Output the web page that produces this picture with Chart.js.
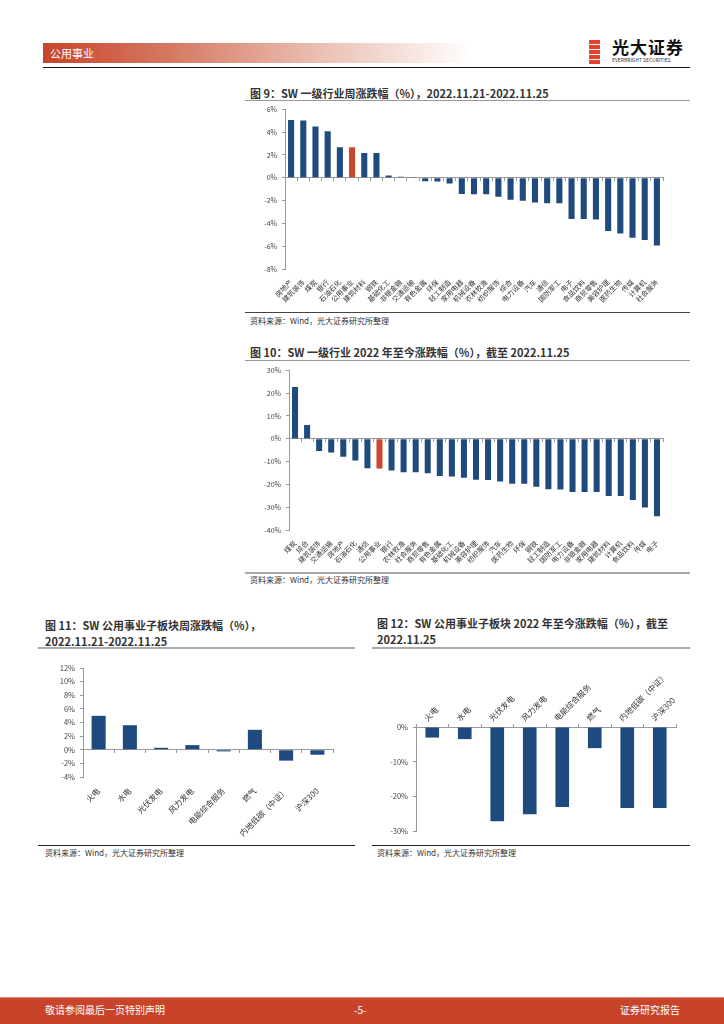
<!DOCTYPE html>
<html>
<head>
<meta charset="utf-8">
<script src="https://cdn.jsdelivr.net/npm/chart.js@4.4.0/dist/chart.umd.min.js"></script>
<style>
  body { margin: 0; }
  #page { position: relative; width: 724px; height: 1024px; background: #fff; overflow: hidden;
          font-family: "Noto Sans CJK SC", "Noto Sans", sans-serif; color: #333; }
  .title { position: absolute; font-size: 11px; font-weight: bold; line-height: 16px; color: #333; white-space: nowrap; }
  .src { position: absolute; font-size: 8px; line-height: 10px; color: #333; white-space: nowrap; }
  .rule { position: absolute; height: 0; }
  canvas { position: absolute; }
</style>
</head>
<body>
<div id="page">
  <!-- header -->
  <div style="position:absolute;left:43px;top:43px;width:430px;height:20px;background:linear-gradient(to right,#C7452A 0%,#D67A63 30%,#E8B7AA 60%,#fff 100%);"></div>
  <div style="position:absolute;left:50px;top:45px;font-size:11px;line-height:16px;color:#fff;">公用事业</div>
  <div style="position:absolute;left:589px;top:40px;width:11px;height:24px;background:repeating-linear-gradient(to bottom,#E8412C 0 4px,#fff 4px 5px);"></div>
  <div style="position:absolute;left:612px;top:37px;font-size:17px;font-weight:bold;line-height:20px;color:#111;letter-spacing:1px;">光大证券</div>
  <div style="position:absolute;left:612px;top:57px;font-size:5px;line-height:6px;color:#333;">EVERBRIGHT SECURITIES</div>
  <div class="rule" style="left:43px;top:67px;width:647px;border-top:1.5px solid #111;"></div>

  <!-- chart 9 -->
  <div class="title" style="left:250px;top:85px;">图 9：SW 一级行业周涨跌幅（%），2022.11.21-2022.11.25</div>
  <div class="rule" style="left:245px;top:100px;width:445px;border-top:1px solid #999;"></div>
  <canvas id="c9" width="445" height="212" style="left:245px;top:100px;"></canvas>
  <div class="rule" style="left:245px;top:312px;width:445px;border-top:1px solid #444;"></div>
  <div class="src" style="left:250px;top:316px;">资料来源：Wind，光大证券研究所整理</div>

  <!-- chart 10 -->
  <div class="title" style="left:250px;top:344px;">图 10：SW 一级行业 2022 年至今涨跌幅（%），截至 2022.11.25</div>
  <div class="rule" style="left:245px;top:360px;width:445px;border-top:1px solid #999;"></div>
  <canvas id="c10" width="445" height="210" style="left:245px;top:361px;"></canvas>
  <div class="rule" style="left:245px;top:572px;width:445px;border-top:2px solid #aaa;"></div>
  <div class="src" style="left:250px;top:575px;">资料来源：Wind，光大证券研究所整理</div>

  <!-- chart 11 -->
  <div class="title" style="left:45px;top:617px;">图 11：SW 公用事业子板块周涨跌幅（%），<br>2022.11.21-2022.11.25</div>
  <div class="rule" style="left:38px;top:647px;width:317px;border-top:2px solid #aaa;"></div>
  <canvas id="c11" width="317" height="193" style="left:38px;top:650px;"></canvas>
  <div class="rule" style="left:38px;top:845px;width:317px;border-top:1px solid #222;"></div>
  <div class="src" style="left:45px;top:848px;">资料来源：Wind，光大证券研究所整理</div>

  <!-- chart 12 -->
  <div class="title" style="left:377px;top:615px;">图 12：SW 公用事业子板块 2022 年至今涨跌幅（%），截至<br>2022.11.25</div>
  <div class="rule" style="left:372px;top:647px;width:318px;border-top:2px solid #aaa;"></div>
  <canvas id="c12" width="318" height="193" style="left:372px;top:650px;"></canvas>
  <div class="rule" style="left:372px;top:845px;width:318px;border-top:1px solid #222;"></div>
  <div class="src" style="left:377px;top:848px;">资料来源：Wind，光大证券研究所整理</div>

  <!-- footer -->
  <div style="position:absolute;left:0;top:997px;width:724px;height:1px;background:#E08A75;"></div>
  <div style="position:absolute;left:0;top:998px;width:724px;height:26px;background:#C7432A;"></div>
  <div style="position:absolute;left:45px;top:1003px;font-size:10px;line-height:14px;color:#fff;">敬请参阅最后一页特别声明</div>
  <div style="position:absolute;left:354px;top:1003px;font-size:10px;line-height:14px;color:#fff;">-5-</div>
  <div style="position:absolute;right:44px;top:1003px;font-size:10px;line-height:14px;color:#fff;">证券研究报告</div>
</div>

<script>
// 图9：SW 一级行业周涨跌幅
const wkLabels = ['房地产','建筑装饰','煤炭','银行','石油石化','公用事业','建筑材料','钢铁','基础化工','非银金融','交通运输','有色金属','环保','轻工制造','家用电器','机械设备','农林牧渔','纺织服饰','综合','电力设备','汽车','通信','国防军工','电子','食品饮料','商贸零售','美容护理','医药生物','传媒','计算机','社会服务'];
const wkValues = [5.06,5.00,4.49,4.06,2.66,2.66,2.17,2.17,0.20,0.09,0.06,-0.31,-0.34,-0.51,-1.43,-1.46,-1.46,-1.66,-1.94,-2.03,-2.17,-2.23,-2.23,-3.63,-3.63,-3.66,-4.66,-4.89,-5.26,-5.46,-5.94];

// 图10：SW 一级行业 2022 年至今涨跌幅
const ytdLabels = ['煤炭','综合','建筑装饰','交通运输','房地产','石油石化','通信','公用事业','银行','农林牧渔','社会服务','商贸零售','有色金属','基础化工','机械设备','美容护理','纺织服饰','汽车','医药生物','环保','钢铁','轻工制造','国防军工','电力设备','非银金融','家用电器','建筑材料','计算机','食品饮料','传媒','电子'];
const ytdValues = [22.6,6.0,-5.4,-6.0,-7.9,-9.6,-12.9,-13.1,-13.9,-14.7,-14.7,-15.1,-16.3,-16.6,-17.1,-18.0,-18.1,-18.7,-19.7,-19.7,-21.0,-22.1,-22.3,-23.3,-23.4,-23.4,-25.1,-25.1,-26.9,-30.1,-34.0];

// 图11 / 图12：公用事业子板块
const subLabels = ['火电','水电','光伏发电','风力发电','电能综合服务','燃气','内地低碳（中证）','沪深300'];
const subWeek = [4.98,3.60,0.29,0.68,-0.24,2.93,-1.60,-0.73];
const subYtd = [-3.05,-3.50,-27.2,-25.2,-23.1,-6.1,-23.4,-23.4];

// y axis ranges [min, max, step]
const wkRange = [-8, 6, 2];
const ytdRange = [-40, 30, 10];
const subWeekRange = [-4, 12, 2];
const subYtdRange = [-30, 0, 10];

const BLUE = '#1F4A7E';
const RED = '#C9472B';
const AXIS = '#999';
const FONT = '"Noto Sans CJK SC", "Noto Sans", sans-serif';

function pct(v) { return v + '%'; }

function barChart(id, labels, values, range, o) {
  const colors = labels.map(l => l === '公用事业' ? RED : BLUE);
  const scales = {
    y: {
      min: range[0], max: range[1],
      ticks: { stepSize: range[2], callback: pct, color: '#444', padding: 5, font: { family: FONT, size: o.tickSize } },
      grid: { drawOnChartArea: false, tickLength: 3, color: AXIS },
      border: { color: AXIS },
      afterFit: s => { s.width = o.yWidth; }
    }
  };
  const labelTicks = { minRotation: 45, maxRotation: 45, autoSkip: false, padding: 1, color: '#333', font: { family: FONT, size: o.labelSize } };

  if (o.top) {
    // labels above, axis line at 0 on top
    scales.x = {
      type: 'category', position: 'top', offset: true,
      ticks: labelTicks,
      grid: { drawOnChartArea: false, offset: true, tickLength: 3, color: AXIS },
      border: { color: AXIS },
      afterFit: s => { s.height = o.xHeight; }
    };
  } else {
    // zero line with tick marks, labels at the bottom
    scales.x = {
      type: 'category', position: { y: 0 }, offset: true,
      ticks: { display: false },
      grid: { drawOnChartArea: false, offset: true, tickLength: 3, color: AXIS },
      border: { color: AXIS }
    };
    scales.x2 = {
      type: 'category', axis: 'x', position: 'bottom', offset: true,
      ticks: labelTicks,
      grid: { display: false },
      border: { display: false },
      afterFit: s => { s.height = o.xHeight; }
    };
  }

  new Chart(document.getElementById(id), {
    type: 'bar',
    data: {
      labels: labels,
      datasets: [{ data: values, backgroundColor: colors, borderWidth: 0, barPercentage: o.bar, categoryPercentage: 1 }]
    },
    options: {
      responsive: false,
      animation: false,
      events: [],
      layout: { padding: o.pad },
      plugins: { legend: { display: false }, tooltip: { enabled: false } },
      scales: scales
    }
  });
}

barChart('c9', wkLabels, wkValues, wkRange,
  { yWidth: 40, xHeight: 43, tickSize: 7, labelSize: 7, bar: 0.5, pad: { left: 0, right: 27, top: 7, bottom: 0 } });
barChart('c10', ytdLabels, ytdValues, ytdRange,
  { yWidth: 44, xHeight: 41, tickSize: 7, labelSize: 7, bar: 0.5, pad: { left: 0, right: 27, top: 5, bottom: 0 } });
barChart('c11', subLabels, subWeek, subWeekRange,
  { yWidth: 45, xHeight: 66, tickSize: 7.5, labelSize: 8, bar: 0.45, pad: { left: 0, right: 22, top: 18, bottom: 0 } });
barChart('c12', subLabels, subYtd, subYtdRange,
  { top: true, yWidth: 44, xHeight: 77, tickSize: 7.5, labelSize: 8, bar: 0.42, pad: { left: 0, right: 14, top: 0, bottom: 12 } });
</script>
</body>
</html>
